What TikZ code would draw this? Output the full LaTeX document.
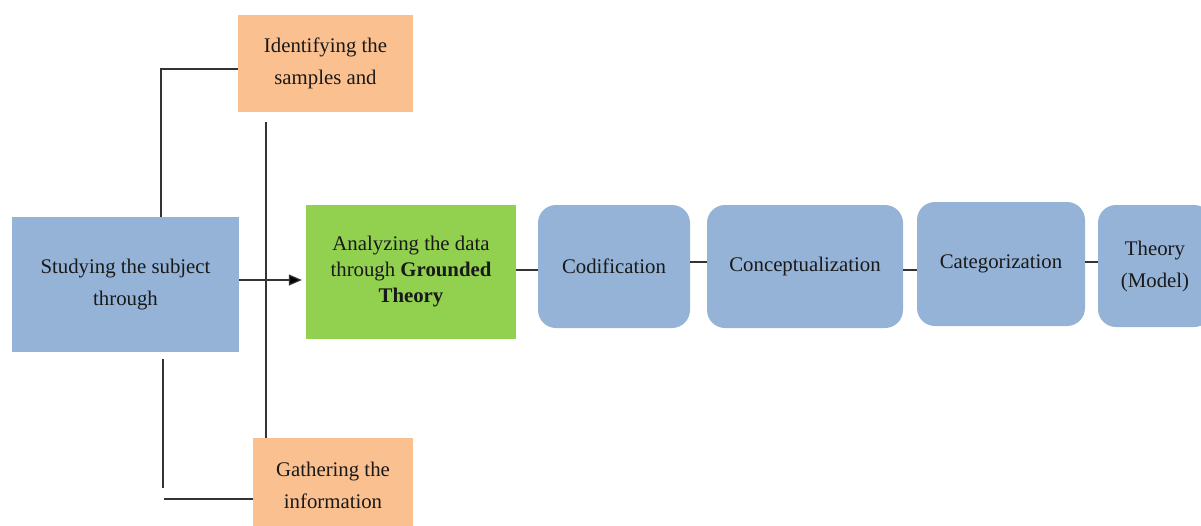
\documentclass[tikz,border=0pt]{standalone}
\usepackage{fontspec}
\setmainfont{Liberation Serif}
\usetikzlibrary{arrows.meta}
\definecolor{boxorange}{HTML}{FAC090}
\definecolor{boxblue}{HTML}{95B3D7}
\definecolor{boxgreen}{HTML}{92D050}
\definecolor{linegray}{HTML}{333333}
\tikzset{
  base/.style={inner sep=0pt, align=center, text=black!90,
    font=\fontsize{20.8}{32}\selectfont},
  obox/.style={base, fill=boxorange},
  sbox/.style={base, fill=boxblue},
  gbox/.style={base, fill=boxgreen, font=\fontsize{20.8}{26}\selectfont},
  rbox/.style={base, fill=boxblue, rounded corners=18pt},
  conn/.style={draw=linegray, line width=1.2pt},
  arr/.style={conn, -{Triangle[length=13pt,width=11pt,fill=black]}, shorten >=4pt}
}
\begin{document}
\begin{tikzpicture}[x=1pt,y=-1pt]
\useasboundingbox (0,0) rectangle (1201,525);
% boxes
\node[obox, minimum width=175pt, minimum height=97pt] (otop) at (325.5,63.5) {Identifying the\\samples and};
\node[obox, minimum width=160pt, minimum height=94pt] (obot) at (333,485) {Gathering the\\information};
\node[sbox, minimum width=227pt, minimum height=135pt] (study) at (125.5,284.5) {Studying the subject\\through};
\node[gbox, minimum width=210pt, minimum height=134pt] (green) at (411,272) {Analyzing the data\\through \textbf{Grounded}\\\textbf{Theory}};
\node[rbox, minimum width=152pt, minimum height=123pt] (codif) at (614,266.5) {Codification};
\node[rbox, minimum width=196pt, minimum height=123pt] (concept) at (805,266.5) {Conceptualization};
\node[rbox, minimum width=168pt, minimum height=124pt] (categ) at (1001,264) {Categorization};
\node[rbox, minimum width=114pt, minimum height=122pt] (theory) at (1155,266) {Theory\\(Model)};
% helper coordinates
\coordinate (ay) at (0,280);
\coordinate (vt) at (266,122);
\coordinate (tl) at (161,69);
\coordinate (bl1) at (163,359);
\coordinate (bl2) at (163,488);
\coordinate (bl3) at (164,499);
\coordinate (ya) at (0,270);
\coordinate (yb) at (0,262);
% connectors
\draw[conn] (vt) -- (vt |- obot.north);
\draw[conn] (tl |- study.north) -- (tl) -- (tl -| otop.west);
\draw[conn] (bl1) -- (bl2);
\draw[conn] (bl3) -- (bl3 -| obot.west);
\draw[arr] (study.east |- ay) -- (green.west |- ay);
\draw[conn] (green.east |- ya) -- (codif.west |- ya);
\draw[conn] (codif.east |- yb) -- (concept.west |- yb);
\draw[conn] (concept.east |- ya) -- (categ.west |- ya);
\draw[conn] (categ.east |- yb) -- (theory.west |- yb);
\end{tikzpicture}
\end{document}
